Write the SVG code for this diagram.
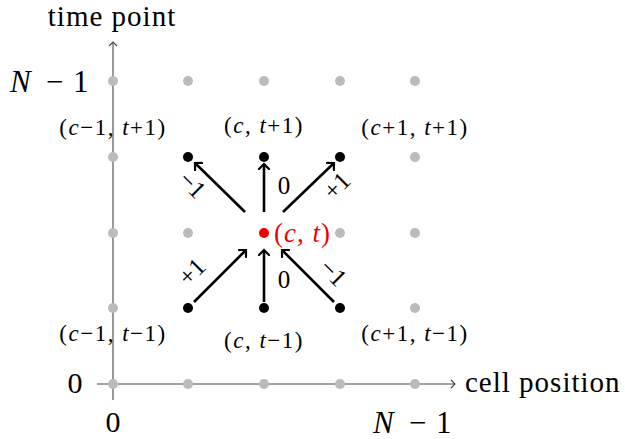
<svg xmlns="http://www.w3.org/2000/svg" width="625" height="439" viewBox="0 0 625 439">
<style>
text{font-family:"Liberation Serif","DejaVu Serif",serif;fill:#000}
.lbl{font-size:23px;text-anchor:middle;letter-spacing:1.5px}
.al{font-size:25px;text-anchor:middle}
.big{font-size:29px;letter-spacing:1px}
.num{font-size:30px}
.nn{font-size:31px}
.it{font-style:italic}
.g{fill:#bbbbbb}
.b{fill:#000}
.axis{stroke:#444;stroke-width:1.1;fill:none}
.arr{stroke:#000;stroke-width:2.6;fill:none;marker-end:url(#head)}
</style>
<defs>
<marker id="head" viewBox="-6 -6 8 12" markerWidth="8" markerHeight="12" refX="0" refY="0" orient="auto" markerUnits="userSpaceOnUse">
<path d="M-5,-5 Q-1,-1 0,0 Q-1,1 -5,5" stroke="#000" stroke-width="2.2" fill="none" stroke-linecap="round"/>
</marker>
<marker id="ahead" viewBox="-6 -5 8 10" markerWidth="8" markerHeight="10" refX="0" refY="0" orient="auto" markerUnits="userSpaceOnUse">
<path d="M-4,-4 Q-1,-1 0,0 Q-1,1 -4,4" stroke="#444" stroke-width="1.1" fill="none"/>
</marker>
</defs>
<g id="axes">
<line class="axis" x1="97" y1="384" x2="455" y2="384" marker-end="url(#ahead)"/>
<line class="axis" x1="113" y1="400" x2="113" y2="42" marker-end="url(#ahead)"/>
<text class="big" x="112" y="26" text-anchor="middle">time point</text>
<text class="big" x="465" y="392">cell position</text>
<text class="num" x="75" y="393" text-anchor="middle">0</text>
<text class="num" x="113" y="432" text-anchor="middle">0</text>
<text class="nn"><tspan class="it" x="10" y="92">N</tspan><tspan x="46" y="92">−</tspan><tspan x="73" y="92">1</tspan></text>
<text class="nn"><tspan class="it" x="373" y="433">N</tspan><tspan x="409" y="433">−</tspan><tspan x="436" y="433">1</tspan></text>
</g>
<g id="grid">
<circle class="g" cx="113" cy="81" r="5"/><circle class="g" cx="188" cy="81" r="5"/><circle class="g" cx="264" cy="81" r="5"/><circle class="g" cx="340" cy="81" r="5"/><circle class="g" cx="415" cy="81" r="5"/>
<circle class="g" cx="113" cy="157" r="5"/><circle class="g" cx="415" cy="157" r="5"/>
<circle class="g" cx="113" cy="233" r="5"/><circle class="g" cx="188" cy="233" r="5"/><circle class="g" cx="340" cy="233" r="5"/><circle class="g" cx="415" cy="233" r="5"/>
<circle class="g" cx="113" cy="308" r="5"/><circle class="g" cx="415" cy="308" r="5"/>
<circle class="g" cx="113" cy="384" r="5"/><circle class="g" cx="188" cy="384" r="5"/><circle class="g" cx="264" cy="384" r="5"/><circle class="g" cx="340" cy="384" r="5"/><circle class="g" cx="415" cy="384" r="5"/>
</g>
<g id="n-c1-t1"><circle class="b" cx="188" cy="157" r="5"/><text class="lbl" x="113" y="135">(<tspan class="it">c</tspan>−1, <tspan class="it">t</tspan>+1)</text></g>
<g id="n-c-t1"><circle class="b" cx="264" cy="157" r="5"/><text class="lbl" x="264" y="133">(<tspan class="it">c</tspan>, <tspan class="it">t</tspan>+1)</text></g>
<g id="n-c2-t1"><circle class="b" cx="340" cy="157" r="5"/><text class="lbl" x="415" y="135">(<tspan class="it">c</tspan>+1, <tspan class="it">t</tspan>+1)</text></g>
<g id="n-c1-t0"><circle class="b" cx="188" cy="308" r="5"/><text class="lbl" x="113" y="341">(<tspan class="it">c</tspan>−1, <tspan class="it">t</tspan>−1)</text></g>
<g id="n-c-t0"><circle class="b" cx="264" cy="308" r="5"/><text class="lbl" x="264" y="348">(<tspan class="it">c</tspan>, <tspan class="it">t</tspan>−1)</text></g>
<g id="n-c2-t0"><circle class="b" cx="340" cy="308" r="5"/><text class="lbl" x="415" y="341">(<tspan class="it">c</tspan>+1, <tspan class="it">t</tspan>−1)</text></g>
<g id="center"><circle cx="264" cy="233" r="5" fill="#ee0000"/><text x="274" y="242" font-size="27" letter-spacing="1" style="fill:#ee0000">(<tspan class="it">c</tspan>, <tspan class="it">t</tspan>)</text></g>
<g id="connectors">
<line class="arr" x1="245" y1="212" x2="195" y2="163"/>
<line class="arr" x1="264" y1="212" x2="264" y2="164"/>
<line class="arr" x1="283" y1="212" x2="334" y2="163"/>
<line class="arr" x1="194" y1="302" x2="246" y2="250"/>
<line class="arr" x1="264" y1="302" x2="264" y2="250"/>
<line class="arr" x1="334" y1="302" x2="282" y2="250"/>
<text class="al" transform="translate(192,185) rotate(45)" x="0" y="8">−1</text>
<text class="al" x="284" y="194">0</text>
<text class="al" transform="translate(337,186) rotate(-45)" x="0" y="8">+1</text>
<text class="al" transform="translate(192,272) rotate(-45)" x="0" y="8">+1</text>
<text class="al" x="284" y="288">0</text>
<text class="al" transform="translate(333,273) rotate(45)" x="0" y="8">−1</text>
</g>
</svg>
